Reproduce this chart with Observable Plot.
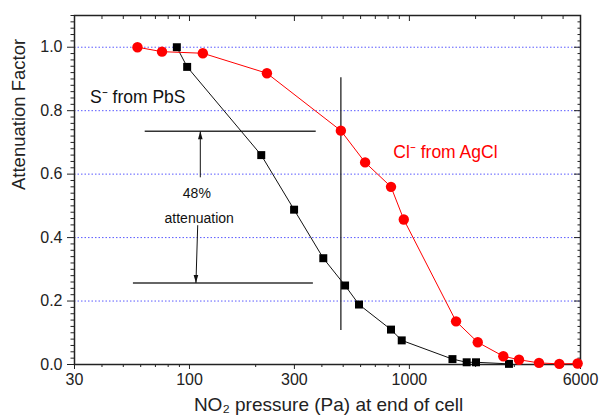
<!DOCTYPE html>
<html><head><meta charset="utf-8">
<script src="https://cdn.jsdelivr.net/npm/d3@7"></script>
<script src="https://cdn.jsdelivr.net/npm/@observablehq/plot@0.6"></script>
<style>body{margin:0;background:#fff}</style>
</head><body><div id="chart"></div>
<script>
// Cl- from AgCl (red circles)
const pressureCl = [58, 75, 115, 225, 488, 629, 825, 943, 1630, 2046, 2674, 3151, 3885, 4806, 5822];
const attenCl    = [1.0, 0.986, 0.981, 0.918, 0.737, 0.637, 0.560, 0.457, 0.136, 0.070, 0.026, 0.015, 0.005, 0.002, 0.003];
// S- from PbS (black squares)
const pressureS = [87.6, 97.6, 212, 299, 406, 510, 590, 825, 923, 1570, 1822, 2009, 2837];
const attenS    = [1.0, 0.938, 0.660, 0.488, 0.335, 0.249, 0.189, 0.110, 0.076, 0.017, 0.007, 0.007, 0.002];

// axes
const xTickValues = [30, 100, 300, 1000, 6000];
const xTickLabels = ["30", "100", "300", "1000", "6000"];
const xMinorTicks = [40, 50, 60, 70, 80, 90, 200, 400, 500, 600, 700, 800, 900, 2000, 3000, 4000, 5000];
const yTickValues = [0, 0.2, 0.4, 0.6, 0.8, 1.0];
const yTickLabels = ["0.0", "0.2", "0.4", "0.6", "0.8", "1.0"];
const yMinorTicks = d3.range(0, 1.101, 0.02).filter(v => !yTickValues.some(t => Math.abs(t - v) < 1e-9));
const gridValues = [0.2, 0.4, 0.6, 0.8, 1.0];

// annotations
const bracketLevels = [0.735, 0.257];
const bracketStart  = [62.9, 55.6];
const bracketEnd    = [377, 366];
const markerPressure = 488;
const markerRange = [0.107, 0.904];
const arrowUp   = {x1: 112, y1: 0.590, x2: 112, y2: 0.735};
const arrowDown = {x1: 109, y1: 0.439, x2: 107, y2: 0.257};
const seriesLabels = [
  {x: 35.3, y: 0.843, text: "S\u207B from PbS", fill: "#111"},
  {x: 845,  y: 0.670, text: "Cl\u207B from AgCl", fill: "#ff0000"}
];
const noteLabels = [
  {x: 108,  y: 0.539, text: "48%"},
  {x: 110.7, y: 0.460, text: "attenuation"}
];
const xTitle = "NO\u2082 pressure (Pa) at end of cell";
const yTitle = "Attenuation Factor";

const cl = pressureCl.map((p, i) => ({p, a: attenCl[i]}));
const s = pressureS.map((p, i) => ({p, a: attenS[i]}));
const brackets = bracketLevels.map((y, i) => ({y, x1: bracketStart[i], x2: bracketEnd[i]}));

const headUp = {draw(c) { c.moveTo(0, 0); c.lineTo(-2.3, 8); c.lineTo(2.3, 8); c.closePath(); }};
const headDown = {draw(c) { c.moveTo(0, 0); c.lineTo(-2.3, -8); c.lineTo(2.3, -8); c.closePath(); }};

const fmtX = d => xTickLabels[xTickValues.indexOf(d)];
const fmtY = d => yTickLabels[yTickValues.findIndex(t => Math.abs(t - d) < 1e-9)];
const blank = () => "";

const chart = Plot.plot({
  width: 601, height: 420,
  marginLeft: 74, marginRight: 21, marginTop: 15, marginBottom: 56,
  style: {fontFamily: "'Liberation Sans', Arial, sans-serif", background: "#fff", color: "#222"},
  x: {type: "log", domain: [30, 6000]},
  y: {domain: [0, 1.1]},
  marks: [
    Plot.ruleY(gridValues, {stroke: "#5a5aff", strokeDasharray: "1.5,2", strokeWidth: 1}),
    // axes
    Plot.axisX(xTickValues, {anchor: "bottom", tickSize: 5, tickFormat: blank, label: null, stroke: "#222"}),
    Plot.text(xTickValues, {x: d => d, frameAnchor: "bottom", dy: 9, lineAnchor: "top", text: fmtX, fontSize: 16, fill: "#222"}),
    Plot.axisX(xMinorTicks, {anchor: "bottom", tickSize: 3, tickFormat: blank, label: null, stroke: "#222"}),
    Plot.axisX(xTickValues, {anchor: "top", tickSize: -5, tickFormat: blank, label: null, stroke: "#222"}),
    Plot.axisX(xMinorTicks, {anchor: "top", tickSize: -3, tickFormat: blank, label: null, stroke: "#222"}),
    Plot.axisY(yTickValues, {anchor: "left", tickSize: 7, tickPadding: 5, tickFormat: fmtY, fontSize: 16, label: null, stroke: "#222"}),
    Plot.axisY(yMinorTicks, {anchor: "left", tickSize: 3.5, tickFormat: blank, label: null, stroke: "#222"}),
    Plot.axisY(yTickValues, {anchor: "right", tickSize: -7, tickFormat: blank, label: null, stroke: "#222"}),
    Plot.axisY(yMinorTicks, {anchor: "right", tickSize: -3.5, tickFormat: blank, label: null, stroke: "#222"}),
    Plot.frame({stroke: "#222", strokeWidth: 1.5}),
    Plot.text([xTitle], {frameAnchor: "bottom", dy: 46, fontSize: 19, fill: "#222", text: d => d, dx: 1}),
    Plot.text([yTitle], {frameAnchor: "left", dx: -55, rotate: -90, fontSize: 18.5, fill: "#222", text: d => d}),
    // annotations
    Plot.ruleY(brackets, {y: "y", x1: "x1", x2: "x2", stroke: "#333", strokeWidth: 1.4}),
    Plot.ruleX([markerPressure], {y1: markerRange[0], y2: markerRange[1], stroke: "#333", strokeWidth: 1.4}),
    Plot.link([arrowUp, arrowDown], {x1: "x1", y1: "y1", x2: "x2", y2: "y2", stroke: "#111", strokeWidth: 1}),
    Plot.dot([arrowUp], {x: "x2", y: "y2", symbol: headUp, r: 3, fill: "#111", stroke: "none"}),
    Plot.dot([arrowDown], {x: "x2", y: "y2", symbol: headDown, r: 3, fill: "#111", stroke: "none"}),
    Plot.text(seriesLabels, {x: "x", y: "y", text: "text", fill: "fill", fontSize: 17.5, textAnchor: "start"}),
    Plot.text(noteLabels, {x: "x", y: "y", text: "text", fill: "#111", fontSize: 14, textAnchor: "middle"}),
    // data
    Plot.line(s, {x: "p", y: "a", stroke: "#111", strokeWidth: 1}),
    Plot.dot(s, {x: "p", y: "a", symbol: "square", r: 4.5, fill: "#000", stroke: "none"}),
    Plot.line(cl, {x: "p", y: "a", stroke: "#ff0000", strokeWidth: 1}),
    Plot.dot(cl, {x: "p", y: "a", symbol: "circle", r: 5.2, fill: "#ff0000", stroke: "none"})
  ]
});
document.getElementById("chart").appendChild(chart);
</script>
</body></html>
